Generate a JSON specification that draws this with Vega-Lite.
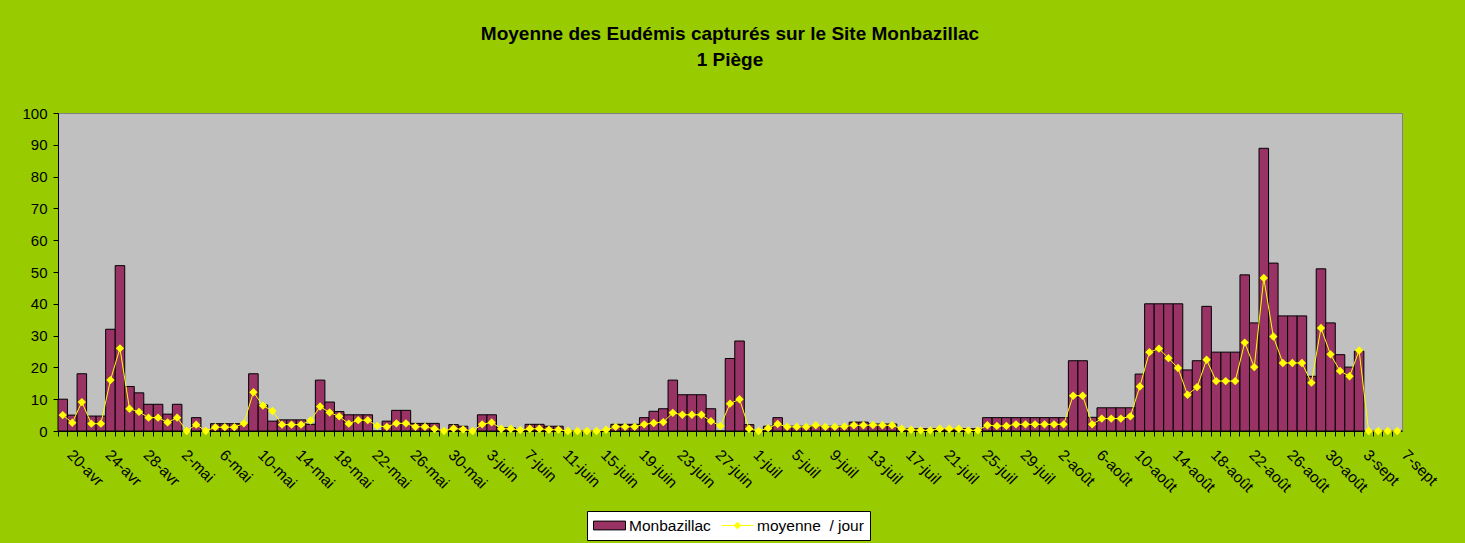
{
  "$schema": "https://vega.github.io/schema/vega-lite/v6.json",
  "width": 1344,
  "height": 318,
  "autosize": {"type": "none"},
  "padding": {"left": 58, "top": 113, "right": 63, "bottom": 112},
  "background": "#99CC00",
  "config": {
    "view": {"fill": "#C0C0C0", "stroke": "#808080", "strokeWidth": 1},
    "font": "Liberation Sans",
    "axisY": {
      "title": null,
      "values": [0, 10, 20, 30, 40, 50, 60, 70, 80, 90, 100],
      "grid": false,
      "labelOverlap": false,
      "tickSize": 5,
      "tickColor": "#000000",
      "domainColor": "#000000",
      "labelFontSize": 15,
      "labelColor": "#000000",
      "labelPadding": 6
    }
  },
  "title": {
    "text": ["Moyenne des Eudémis capturés sur le Site Monbazillac", "1 Piège"],
    "font": "Liberation Sans",
    "fontSize": 19,
    "fontWeight": "bold",
    "color": "#000000",
    "lineHeight": 26,
    "offset": 36,
    "anchor": "middle",
    "frame": "group"
  },
  "data": {
    "values": [
      {"date": "20-avr", "Monbazillac": 10, "moyenne": 5},
      {"date": "21-avr", "Monbazillac": 5, "moyenne": 2.6},
      {"date": "22-avr", "Monbazillac": 18, "moyenne": 9.1},
      {"date": "23-avr", "Monbazillac": 4.7, "moyenne": 2.3},
      {"date": "24-avr", "Monbazillac": 4.7, "moyenne": 2.3},
      {"date": "25-avr", "Monbazillac": 32, "moyenne": 16},
      {"date": "26-avr", "Monbazillac": 52, "moyenne": 26},
      {"date": "27-avr", "Monbazillac": 14, "moyenne": 7},
      {"date": "28-avr", "Monbazillac": 12, "moyenne": 6},
      {"date": "29-avr", "Monbazillac": 8.4, "moyenne": 4.2},
      {"date": "30-avr", "Monbazillac": 8.4, "moyenne": 4.2},
      {"date": "1-mai", "Monbazillac": 5.3, "moyenne": 2.7},
      {"date": "2-mai", "Monbazillac": 8.4, "moyenne": 4.2},
      {"date": "3-mai", "Monbazillac": 0, "moyenne": 0},
      {"date": "4-mai", "Monbazillac": 4.2, "moyenne": 2},
      {"date": "5-mai", "Monbazillac": 0, "moyenne": 0},
      {"date": "6-mai", "Monbazillac": 2.3, "moyenne": 1.2},
      {"date": "7-mai", "Monbazillac": 2.3, "moyenne": 1.2},
      {"date": "8-mai", "Monbazillac": 2.3, "moyenne": 1.2},
      {"date": "9-mai", "Monbazillac": 2.3, "moyenne": 2.4},
      {"date": "10-mai", "Monbazillac": 18, "moyenne": 12.2},
      {"date": "11-mai", "Monbazillac": 8.2, "moyenne": 8},
      {"date": "12-mai", "Monbazillac": 3.1, "moyenne": 6.3},
      {"date": "13-mai", "Monbazillac": 3.5, "moyenne": 2},
      {"date": "14-mai", "Monbazillac": 3.5, "moyenne": 2},
      {"date": "15-mai", "Monbazillac": 3.5, "moyenne": 2},
      {"date": "16-mai", "Monbazillac": 2.1, "moyenne": 3.3},
      {"date": "17-mai", "Monbazillac": 16, "moyenne": 7.7},
      {"date": "18-mai", "Monbazillac": 9.1, "moyenne": 5.8},
      {"date": "19-mai", "Monbazillac": 6.1, "moyenne": 4.6},
      {"date": "20-mai", "Monbazillac": 5.1, "moyenne": 2.3},
      {"date": "21-mai", "Monbazillac": 5.1, "moyenne": 3.4},
      {"date": "22-mai", "Monbazillac": 5.1, "moyenne": 3.4},
      {"date": "23-mai", "Monbazillac": 0, "moyenne": 1.6},
      {"date": "24-mai", "Monbazillac": 3.1, "moyenne": 1.3},
      {"date": "25-mai", "Monbazillac": 6.5, "moyenne": 2.4},
      {"date": "26-mai", "Monbazillac": 6.5, "moyenne": 2.4},
      {"date": "27-mai", "Monbazillac": 2.4, "moyenne": 1.3},
      {"date": "28-mai", "Monbazillac": 2.4, "moyenne": 1.3},
      {"date": "29-mai", "Monbazillac": 2.4, "moyenne": 0.7},
      {"date": "30-mai", "Monbazillac": 0, "moyenne": 0},
      {"date": "31-mai", "Monbazillac": 2, "moyenne": 0.8},
      {"date": "1-juin", "Monbazillac": 1.5, "moyenne": 0.5},
      {"date": "2-juin", "Monbazillac": 0, "moyenne": 0},
      {"date": "3-juin", "Monbazillac": 5.1, "moyenne": 2.1},
      {"date": "4-juin", "Monbazillac": 5.1, "moyenne": 2.7},
      {"date": "5-juin", "Monbazillac": 1, "moyenne": 0.7},
      {"date": "6-juin", "Monbazillac": 1, "moyenne": 0.7},
      {"date": "7-juin", "Monbazillac": 0, "moyenne": 0.3},
      {"date": "8-juin", "Monbazillac": 2.1, "moyenne": 0.7},
      {"date": "9-juin", "Monbazillac": 2.1, "moyenne": 0.7},
      {"date": "10-juin", "Monbazillac": 1.5, "moyenne": 0.4},
      {"date": "11-juin", "Monbazillac": 1.5, "moyenne": 0.4},
      {"date": "12-juin", "Monbazillac": 0, "moyenne": 0},
      {"date": "13-juin", "Monbazillac": 0, "moyenne": 0},
      {"date": "14-juin", "Monbazillac": 0, "moyenne": 0},
      {"date": "15-juin", "Monbazillac": 0, "moyenne": 0},
      {"date": "16-juin", "Monbazillac": 0, "moyenne": 0.4},
      {"date": "17-juin", "Monbazillac": 2.1, "moyenne": 1.3},
      {"date": "18-juin", "Monbazillac": 2.1, "moyenne": 1.3},
      {"date": "19-juin", "Monbazillac": 2.1, "moyenne": 1.3},
      {"date": "20-juin", "Monbazillac": 4.2, "moyenne": 2.1},
      {"date": "21-juin", "Monbazillac": 6.2, "moyenne": 2.5},
      {"date": "22-juin", "Monbazillac": 7, "moyenne": 2.8},
      {"date": "23-juin", "Monbazillac": 16, "moyenne": 5.7},
      {"date": "24-juin", "Monbazillac": 11.4, "moyenne": 5.1},
      {"date": "25-juin", "Monbazillac": 11.4, "moyenne": 5.1},
      {"date": "26-juin", "Monbazillac": 11.4, "moyenne": 5.1},
      {"date": "27-juin", "Monbazillac": 7, "moyenne": 3.1},
      {"date": "28-juin", "Monbazillac": 0, "moyenne": 1.6},
      {"date": "29-juin", "Monbazillac": 22.8, "moyenne": 8.6},
      {"date": "30-juin", "Monbazillac": 28.3, "moyenne": 10},
      {"date": "1-juil", "Monbazillac": 2, "moyenne": 0.7},
      {"date": "2-juil", "Monbazillac": 0, "moyenne": 0},
      {"date": "3-juil", "Monbazillac": 1.5, "moyenne": 0.9},
      {"date": "4-juil", "Monbazillac": 4.2, "moyenne": 2.2},
      {"date": "5-juil", "Monbazillac": 1.5, "moyenne": 1.3},
      {"date": "6-juil", "Monbazillac": 1.5, "moyenne": 1.3},
      {"date": "7-juil", "Monbazillac": 1.5, "moyenne": 1.3},
      {"date": "8-juil", "Monbazillac": 1.5, "moyenne": 1.8},
      {"date": "9-juil", "Monbazillac": 1.5, "moyenne": 1.3},
      {"date": "10-juil", "Monbazillac": 1.5, "moyenne": 1.3},
      {"date": "11-juil", "Monbazillac": 1.5, "moyenne": 1.4},
      {"date": "12-juil", "Monbazillac": 2.8, "moyenne": 1.8},
      {"date": "13-juil", "Monbazillac": 2.8, "moyenne": 1.8},
      {"date": "14-juil", "Monbazillac": 2.2, "moyenne": 1.9},
      {"date": "15-juil", "Monbazillac": 2.2, "moyenne": 1.8},
      {"date": "16-juil", "Monbazillac": 2.2, "moyenne": 1.8},
      {"date": "17-juil", "Monbazillac": 0.7, "moyenne": 0.7},
      {"date": "18-juil", "Monbazillac": 0.7, "moyenne": 0.4},
      {"date": "19-juil", "Monbazillac": 0.7, "moyenne": 0.2},
      {"date": "20-juil", "Monbazillac": 0.7, "moyenne": 0.2},
      {"date": "21-juil", "Monbazillac": 0.7, "moyenne": 0.7},
      {"date": "22-juil", "Monbazillac": 0.7, "moyenne": 0.7},
      {"date": "23-juil", "Monbazillac": 0.7, "moyenne": 0.7},
      {"date": "24-juil", "Monbazillac": 0.7, "moyenne": 0.2},
      {"date": "25-juil", "Monbazillac": 0.7, "moyenne": 0.2},
      {"date": "26-juil", "Monbazillac": 4.2, "moyenne": 1.8},
      {"date": "27-juil", "Monbazillac": 4.2, "moyenne": 1.6},
      {"date": "28-juil", "Monbazillac": 4.2, "moyenne": 1.6},
      {"date": "29-juil", "Monbazillac": 4.2, "moyenne": 2.1},
      {"date": "30-juil", "Monbazillac": 4.2, "moyenne": 2.1},
      {"date": "31-juil", "Monbazillac": 4.2, "moyenne": 2.1},
      {"date": "1-août", "Monbazillac": 4.2, "moyenne": 2.1},
      {"date": "2-août", "Monbazillac": 4.2, "moyenne": 2.1},
      {"date": "3-août", "Monbazillac": 4.2, "moyenne": 2.1},
      {"date": "4-août", "Monbazillac": 22.1, "moyenne": 11.1},
      {"date": "5-août", "Monbazillac": 22.1, "moyenne": 11.1},
      {"date": "6-août", "Monbazillac": 4.3, "moyenne": 2.1},
      {"date": "7-août", "Monbazillac": 7.3, "moyenne": 3.9},
      {"date": "8-août", "Monbazillac": 7.3, "moyenne": 3.9},
      {"date": "9-août", "Monbazillac": 7.3, "moyenne": 3.9},
      {"date": "10-août", "Monbazillac": 7.3, "moyenne": 4.6},
      {"date": "11-août", "Monbazillac": 17.9, "moyenne": 14},
      {"date": "12-août", "Monbazillac": 40, "moyenne": 24.8},
      {"date": "13-août", "Monbazillac": 40, "moyenne": 25.9},
      {"date": "14-août", "Monbazillac": 40, "moyenne": 22.9},
      {"date": "15-août", "Monbazillac": 40, "moyenne": 19.8},
      {"date": "16-août", "Monbazillac": 19.2, "moyenne": 11.4},
      {"date": "17-août", "Monbazillac": 22.1, "moyenne": 13.8},
      {"date": "18-août", "Monbazillac": 39.2, "moyenne": 22.4},
      {"date": "19-août", "Monbazillac": 24.8, "moyenne": 15.7},
      {"date": "20-août", "Monbazillac": 24.8, "moyenne": 15.7},
      {"date": "21-août", "Monbazillac": 24.8, "moyenne": 15.7},
      {"date": "22-août", "Monbazillac": 49.1, "moyenne": 27.8},
      {"date": "23-août", "Monbazillac": 34, "moyenne": 20.1},
      {"date": "24-août", "Monbazillac": 88.9, "moyenne": 48.1},
      {"date": "25-août", "Monbazillac": 52.8, "moyenne": 29.7},
      {"date": "26-août", "Monbazillac": 36.2, "moyenne": 21.4},
      {"date": "27-août", "Monbazillac": 36.2, "moyenne": 21.4},
      {"date": "28-août", "Monbazillac": 36.2, "moyenne": 21.4},
      {"date": "29-août", "Monbazillac": 17.2, "moyenne": 15.2},
      {"date": "30-août", "Monbazillac": 51, "moyenne": 32.4},
      {"date": "31-août", "Monbazillac": 34, "moyenne": 24.1},
      {"date": "1-sept", "Monbazillac": 24, "moyenne": 18.9},
      {"date": "2-sept", "Monbazillac": 20.1, "moyenne": 17.2},
      {"date": "3-sept", "Monbazillac": 25.1, "moyenne": 25.3},
      {"date": "4-sept", "Monbazillac": 0, "moyenne": 0},
      {"date": "5-sept", "Monbazillac": 0, "moyenne": 0},
      {"date": "6-sept", "Monbazillac": 0, "moyenne": 0},
      {"date": "7-sept", "Monbazillac": 0, "moyenne": 0}
    ]
  },
  "encoding": {
    "x": {
      "field": "date",
      "type": "ordinal",
      "sort": null,
      "scale": {"paddingInner": 0, "paddingOuter": 0},
      "axis": {
        "title": null,
        "bandPosition": 0,
        "tickSize": 5,
        "tickColor": "#000000",
        "domainColor": "#000000",
        "labelAngle": 45,
        "labelAlign": "left",
        "labelBaseline": "top",
        "labelPadding": 11,
        "labelOffset": 12,
        "labelFontSize": 15.5,
        "labelColor": "#000000",
        "labelOverlap": false,
        "labelBound": false,
        "labelFlush": false,
        "labelExpr": "indexof(['20-avr','24-avr','28-avr','2-mai','6-mai','10-mai','14-mai','18-mai','22-mai','26-mai','30-mai','3-juin','7-juin','11-juin','15-juin','19-juin','23-juin','27-juin','1-juil','5-juil','9-juil','13-juil','17-juil','21-juil','25-juil','29-juil','2-août','6-août','10-août','14-août','18-août','22-août','26-août','30-août','3-sept','7-sept'], datum.value) >= 0 ? datum.value : ''"
      }
    }
  },
  "layer": [
    {
      "mark": {"type": "bar", "stroke": "#000000", "strokeWidth": 1, "fill": "#993366"},
      "encoding": {
        "y": {
          "field": "Monbazillac",
          "type": "quantitative",
          "scale": {"domain": [0, 100], "nice": false}
        }
      }
    },
    {
      "mark": {
        "type": "line",
        "strokeWidth": 1,
        "color": "#FFFF00",
        "point": {"shape": "diamond", "size": 70, "filled": true, "color": "#FFFF00"}
      },
      "encoding": {
        "y": {"field": "moyenne", "type": "quantitative"}
      }
    },
    {
      "transform": [{"fold": ["Monbazillac", "moyenne"], "as": ["series", "v"]}],
      "mark": {"type": "point", "filled": true, "opacity": 0},
      "encoding": {
        "y": {"field": "v", "type": "quantitative"},
        "shape": {
          "field": "series",
          "type": "nominal",
          "scale": {"domain": ["Monbazillac", "moyenne"], "range": ["M-2,-0.55H2V0.55H-2Z", "M-2,0H2M0,-0.42L0.42,0L0,0.42L-0.42,0Z"]},
          "legend": {
            "title": null,
            "orient": "none",
            "legendX": 529,
            "legendY": 398,
            "direction": "horizontal",
            "fillColor": "#FFFFFF",
            "strokeColor": "#000000",
            "padding": 6,
            "labelFontSize": 15.5,
            "labelColor": "#000000",
            "symbolSize": 256,
            "symbolOffset": 8,
            "symbolOpacity": 1,
            "symbolStrokeWidth": 1,
            "labelOffset": 11,
            "columnPadding": 8,
            "labelExpr": "datum.value === 'Monbazillac' ? 'Monbazillac' : 'moyenne\u00a0 / jour'"
          }
        },
        "fill": {
          "field": "series",
          "type": "nominal",
          "scale": {"domain": ["Monbazillac", "moyenne"], "range": ["#993366", "#FFFF00"]},
          "legend": {
            "title": null,
            "orient": "none",
            "legendX": 529,
            "legendY": 398,
            "direction": "horizontal",
            "fillColor": "#FFFFFF",
            "strokeColor": "#000000",
            "padding": 6,
            "labelFontSize": 15.5,
            "labelColor": "#000000",
            "symbolSize": 256,
            "symbolOffset": 8,
            "symbolOpacity": 1,
            "symbolStrokeWidth": 1,
            "labelOffset": 11,
            "columnPadding": 8,
            "labelExpr": "datum.value === 'Monbazillac' ? 'Monbazillac' : 'moyenne\u00a0 / jour'"
          }
        },
        "stroke": {
          "field": "series",
          "type": "nominal",
          "scale": {"domain": ["Monbazillac", "moyenne"], "range": ["#000000", "#FFFF00"]},
          "legend": {
            "title": null,
            "orient": "none",
            "legendX": 529,
            "legendY": 398,
            "direction": "horizontal",
            "fillColor": "#FFFFFF",
            "strokeColor": "#000000",
            "padding": 6,
            "labelFontSize": 15.5,
            "labelColor": "#000000",
            "symbolSize": 256,
            "symbolOffset": 8,
            "symbolOpacity": 1,
            "symbolStrokeWidth": 1,
            "labelOffset": 11,
            "columnPadding": 8,
            "labelExpr": "datum.value === 'Monbazillac' ? 'Monbazillac' : 'moyenne\u00a0 / jour'"
          }
        }
      }
    }
  ]
}
